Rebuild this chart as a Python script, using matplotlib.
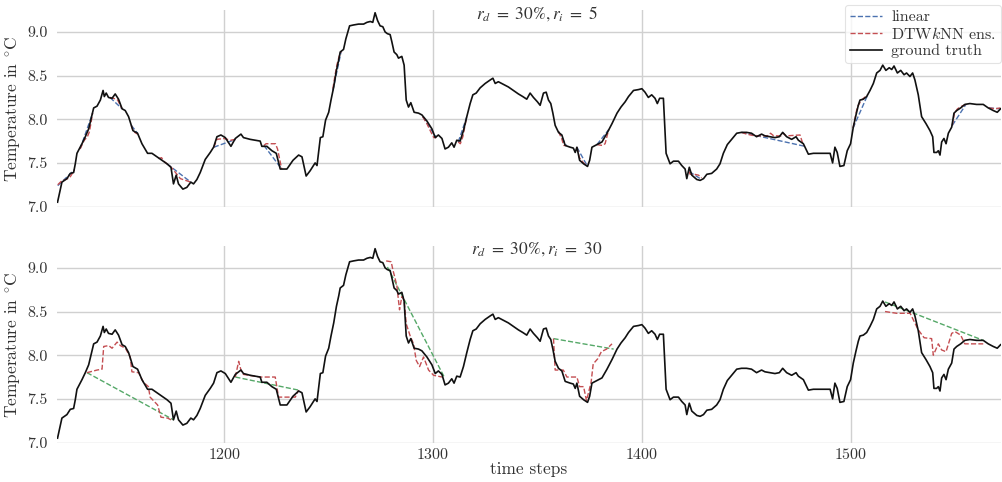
import numpy as np
import matplotlib
matplotlib.use("Agg")
import matplotlib.pyplot as plt

nan = np.nan

# ---------------- data ----------------
gt_steps = [1120.2, 1122.3, 1124.7, 1126.3, 1127.9, 1128.7, 1129.5, 1131.9, 1133.5, 1135.1,
            1136.7, 1137.5, 1139.1, 1140.7, 1142.0, 1142.6, 1143.5, 1144.6, 1146.3, 1147.8,
            1149.4, 1151.1, 1152.6, 1154.2, 1156.3, 1158.5, 1160.6, 1163.3, 1165.4, 1167.8,
            1170.2, 1172.6, 1174.5, 1175.7, 1177.0, 1178.1, 1180.2, 1182.1, 1184.0, 1185.3,
            1186.9, 1188.5, 1190.9, 1193.3, 1194.9, 1196.5, 1198.4, 1200.5, 1203.2, 1205.3,
            1208.0, 1209.2, 1212.4, 1217.2, 1218.0, 1220.4, 1222.8, 1224.9, 1226.8, 1230.0,
            1232.9, 1235.6, 1237.2, 1239.2, 1241.1, 1243.5, 1244.4, 1246.0, 1247.2, 1248.5,
            1250.0, 1251.1, 1252.4, 1253.7, 1254.8, 1255.5, 1257.1, 1258.2, 1260.0, 1261.9,
            1264.3, 1266.7, 1268.3, 1269.9, 1271.1, 1272.2, 1273.4, 1274.6, 1275.9, 1277.0,
            1278.1, 1279.4, 1280.2, 1281.3, 1282.6, 1283.4, 1285.0, 1286.1, 1287.1, 1288.2,
            1289.3, 1290.9, 1293.0, 1294.6, 1297.0, 1299.4, 1301.0, 1302.5, 1304.2, 1305.7,
            1307.3, 1308.9, 1310.0, 1311.3, 1312.9, 1314.5, 1316.1, 1317.7, 1319.0, 1320.6,
            1322.5, 1324.9, 1327.3, 1328.6, 1329.7, 1331.2, 1333.6, 1336.0, 1338.4, 1340.8,
            1342.9, 1344.8, 1346.4, 1348.0, 1349.9, 1351.2, 1352.8, 1354.1, 1355.2, 1356.3,
            1357.3, 1358.4, 1360.0, 1361.6, 1363.2, 1365.6, 1367.1, 1368.0, 1368.8, 1370.1,
            1372.0, 1373.9, 1374.9, 1376.0, 1378.4, 1380.8, 1383.2, 1385.6, 1388.0, 1389.9,
            1391.9, 1393.5, 1395.9, 1398.3, 1399.9, 1401.4, 1403.0, 1404.6, 1406.2, 1407.3,
            1408.4, 1410.2, 1411.5, 1413.4, 1415.0, 1417.4, 1419.0, 1420.6, 1421.4, 1422.6,
            1423.8, 1426.2, 1427.8, 1429.4, 1431.0, 1433.3, 1435.7, 1437.3, 1438.9, 1440.8,
            1442.9, 1445.3, 1447.6, 1450.0, 1452.4, 1454.8, 1457.2, 1458.8, 1461.2, 1463.6,
            1465.7, 1467.3, 1469.2, 1471.6, 1473.7, 1474.8, 1477.2, 1479.6, 1482.0, 1486.0,
            1490.0, 1491.2, 1492.3, 1493.4, 1494.7, 1496.6, 1498.2, 1499.8, 1501.1, 1502.4,
            1503.5, 1504.3, 1505.9, 1507.5, 1509.1, 1510.7, 1512.3, 1513.9, 1515.2, 1516.7,
            1518.3, 1519.5, 1520.6, 1522.2, 1523.8, 1525.4, 1526.6, 1528.2, 1529.5, 1530.6,
            1532.2, 1533.8, 1535.9, 1537.8, 1539.1, 1539.7, 1541.0, 1541.8, 1542.6, 1543.4,
            1544.5, 1545.5, 1546.6, 1548.2, 1549.3, 1550.6, 1552.5, 1554.5, 1556.9, 1560.1,
            1563.3, 1565.7, 1568.1, 1570.0, 1571.6]
gt_temp = [7.05, 7.28, 7.32, 7.38, 7.39, 7.49, 7.61, 7.72, 7.80, 7.89,
           8.05, 8.13, 8.15, 8.22, 8.33, 8.26, 8.30, 8.25, 8.24, 8.29,
           8.23, 8.12, 8.10, 8.03, 7.87, 7.84, 7.72, 7.61, 7.61, 7.57,
           7.53, 7.49, 7.45, 7.26, 7.36, 7.26, 7.20, 7.22, 7.28, 7.26,
           7.31, 7.39, 7.54, 7.62, 7.68, 7.80, 7.82, 7.79, 7.69, 7.78,
           7.83, 7.79, 7.77, 7.75, 7.69, 7.69, 7.64, 7.61, 7.43, 7.43,
           7.53, 7.59, 7.57, 7.35, 7.41, 7.50, 7.47, 7.79, 7.80, 7.99,
           8.08, 8.22, 8.37, 8.56, 8.68, 8.77, 8.80, 8.92, 9.07, 9.08,
           9.09, 9.09, 9.11, 9.12, 9.11, 9.22, 9.13, 9.07, 9.06, 9.00,
           8.98, 8.97, 8.89, 8.77, 8.74, 8.70, 8.72, 8.62, 8.22, 8.14,
           8.19, 8.08, 8.07, 8.05, 7.98, 7.89, 7.79, 7.82, 7.78, 7.66,
           7.68, 7.73, 7.68, 7.76, 7.75, 7.87, 8.03, 8.18, 8.28, 8.30,
           8.36, 8.41, 8.45, 8.47, 8.41, 8.43, 8.40, 8.37, 8.33, 8.29,
           8.26, 8.23, 8.30, 8.25, 8.20, 8.16, 8.30, 8.31, 8.22, 8.18,
           8.07, 7.93, 7.85, 7.82, 7.70, 7.68, 7.67, 7.62, 7.68, 7.53,
           7.49, 7.46, 7.53, 7.68, 7.71, 7.74, 7.84, 7.95, 8.07, 8.14,
           8.20, 8.26, 8.33, 8.34, 8.35, 8.31, 8.25, 8.28, 8.24, 8.18,
           8.24, 8.24, 7.61, 7.49, 7.52, 7.52, 7.47, 7.43, 7.32, 7.45,
           7.36, 7.31, 7.30, 7.32, 7.37, 7.38, 7.43, 7.49, 7.61, 7.71,
           7.77, 7.84, 7.85, 7.85, 7.84, 7.80, 7.83, 7.81, 7.80, 7.79,
           7.80, 7.85, 7.80, 7.77, 7.80, 7.76, 7.72, 7.60, 7.61, 7.61,
           7.61, 7.50, 7.68, 7.62, 7.46, 7.47, 7.64, 7.72, 7.91, 8.05,
           8.16, 8.22, 8.23, 8.26, 8.33, 8.41, 8.53, 8.56, 8.62, 8.56,
           8.59, 8.57, 8.61, 8.53, 8.56, 8.51, 8.53, 8.49, 8.53, 8.45,
           8.28, 8.03, 7.95, 7.87, 7.80, 7.62, 7.62, 7.64, 7.59, 7.74,
           7.78, 7.72, 7.84, 7.91, 8.07, 8.10, 8.13, 8.17, 8.18, 8.17,
           8.17, 8.13, 8.10, 8.08, 8.12]

# r_i = 5 : linear imputation (gap end points, NaN separates gaps)
lin5_steps = [1120.3, 1128.3, nan, 1131.0, 1137.0, nan, 1145.3, 1151.1, nan, 1155.5, 1158.5, nan,
              1172.6, 1184.0, nan, 1195.0, 1205.5, nan, 1219.0, 1227.5, nan, 1252.0, 1256.0, nan,
              1295.0, 1301.5, nan, 1312.0, 1316.0, nan, 1360.0, 1363.7, nan, 1368.8, 1373.9, nan,
              1378.4, 1384.0, nan, 1422.6, 1428.5, nan, 1447.6, 1478.0, nan, 1501.0, 1508.0, nan,
              1548.5, 1555.0, nan, 1566.0, 1571.5]
lin5_temp = [7.24, 7.42, nan, 7.66, 8.07, nan, 8.25, 8.12, nan, 7.93, 7.84, nan,
             7.49, 7.28, nan, 7.68, 7.77, nan, 7.70, 7.43, nan, 8.33, 8.78, nan,
             8.03, 7.79, nan, 7.74, 8.02, nan, 7.86, 7.70, nan, 7.68, 7.46, nan,
             7.71, 7.88, nan, 7.40, 7.31, nan, 7.85, 7.69, nan, 7.90, 8.28, nan,
             7.93, 8.17, nan, 8.13, 8.12]

# r_i = 5 : DTWkNN ensemble imputation
dtw5_steps = [1120.3, 1122, 1124, 1126, 1128.3, nan,
              1131, 1133, 1134.5, 1135.5, 1137, nan,
              1145.3, 1147, 1149, 1151.1, nan,
              1155.5, 1156.5, 1158.5, nan,
              1168.5, 1170, 1171, 1172.6, 1175, 1177, 1179, 1181.5, 1184, nan,
              1195, 1196.5, 1200, 1203, 1205.5, nan,
              1219, 1220, 1224.5, 1225.5, 1227.5, nan,
              1252, 1253, 1254, 1255, 1256, nan,
              1295, 1297, 1299, 1300.3, 1301.5, nan,
              1312, 1313, 1314.2, 1316, nan,
              1360, 1361.5, 1362.5, 1363.7, nan,
              1368.8, 1370, 1372, 1373.9, nan,
              1378.4, 1381, 1382.3, 1384, nan,
              1422.6, 1423, 1425, 1427, 1428.5, nan,
              1447.6, 1450, 1454, 1458, 1460, 1461.5, 1463, 1466.5, 1467.5, 1469, 1475.6, 1477.2, nan,
              1501, 1503, 1505, 1507, 1508, nan,
              1548.5, 1549.5, 1551, 1553, 1555, nan,
              1566, 1569, 1571.5]
dtw5_temp = [7.25, 7.29, 7.31, 7.33, 7.42, nan,
             7.66, 7.76, 7.80, 7.86, 8.07, nan,
             8.25, 8.24, 8.22, 8.12, nan,
             7.93, 7.86, 7.83, nan,
             7.55, 7.56, 7.52, 7.49, 7.44, 7.38, 7.32, 7.30, 7.28, nan,
             7.68, 7.77, 7.78, 7.76, 7.77, nan,
             7.70, 7.72, 7.72, 7.66, 7.43, nan,
             8.35, 8.50, 8.63, 8.72, 8.78, nan,
             8.03, 7.95, 7.85, 7.79, 7.79, nan,
             7.74, 7.72, 7.80, 8.02, nan,
             7.86, 7.78, 7.70, 7.70, nan,
             7.68, 7.56, 7.50, 7.46, nan,
             7.71, 7.70, 7.72, 7.88, nan,
             7.40, 7.37, 7.37, 7.36, 7.33, nan,
             7.85, 7.83, 7.81, 7.81, 7.81, 7.84, 7.81, 7.81, 7.84, 7.81, 7.82, 7.70, nan,
             7.90, 8.14, 8.22, 8.26, 8.28, nan,
             7.93, 8.07, 8.12, 8.15, 8.17, nan,
             8.13, 8.12, 8.13]

# r_i = 30 : straight-line imputation (green)
lin30_steps = [1134.3, 1175.7, nan, 1205.3, 1235.6, nan, 1278.1, 1305.3, nan,
               1357.6, 1386.4, nan, 1516.3, 1563.3]
lin30_temp = [7.80, 7.26, nan, 7.75, 7.60, nan, 9.01, 7.75, nan,
              8.19, 8.07, nan, 8.61, 8.17]

# r_i = 30 : DTWkNN ensemble imputation
dtw30_steps = [1134.3, 1139.1, 1141.5, 1142.3, 1144.7, 1146.3, 1148.7, 1150.3, 1152.7, 1155.0,
               1155.8, 1159.0, 1161.3, 1163.7, 1164.5, 1168.1, 1169.7, 1172.9, 1175.3, nan,
               1205.3, 1206.9, 1208.0, 1209.2, 1217.2, 1224.4, 1226.0, 1230.0, 1234.0, 1235.6, nan,
               1277.5, 1279.9, 1280.7, 1282.6, 1283.9, 1285.0, 1286.1, 1287.1, 1289.0, 1290.6,
               1291.9, 1293.5, 1295.4, 1297.8, 1300.2, 1304.2, nan,
               1357.6, 1358.4, 1362.3, 1364.0, 1368.8, 1370.1, 1372.0, 1373.4, 1375.6, 1376.6,
               1378.8, 1380.5, 1383.0, 1385.6, nan,
               1516.3, 1521.9, 1528.3, 1532.2, 1535.0, 1538.6, 1539.4, 1541.8, 1543.4, 1545.5,
               1548.2, 1549.8, 1552.5, 1554.5, 1563.3]
dtw30_temp = [7.80, 7.83, 7.84, 8.10, 8.11, 8.08, 8.15, 8.11, 8.08, 7.98,
              7.81, 7.80, 7.69, 7.64, 7.52, 7.43, 7.29, 7.28, 7.25, nan,
              7.75, 7.93, 7.83, 7.78, 7.75, 7.75, 7.52, 7.52, 7.52, 7.60, nan,
              9.08, 9.07, 8.98, 8.80, 8.52, 8.67, 8.63, 8.36, 8.22, 8.13,
              7.94, 7.87, 7.98, 7.83, 7.77, 7.75, nan,
              8.19, 7.83, 7.83, 7.75, 7.75, 7.64, 7.64, 7.48, 7.69, 7.90,
              7.96, 8.04, 8.07, 8.13, nan,
              8.50, 8.48, 8.48, 8.29, 8.20, 8.19, 8.00, 8.13, 8.06, 8.04,
              8.25, 8.27, 8.23, 8.13, 8.13]

titles = [r"$r_d\ =\ 30\%, r_i\ =\ 5$", r"$r_d\ =\ 30\%, r_i\ =\ 30$"]
yticks = [7.0, 7.5, 8.0, 8.5, 9.0]
xticks = [1200, 1300, 1400, 1500]

# ---------------- style ----------------
plt.rcParams.update({
    "font.family": "serif",
    "font.serif": ["cmr10"],
    "mathtext.fontset": "cm",
    "axes.formatter.use_mathtext": True,
    "axes.unicode_minus": False,
})

BLUE = "#4c72b0"
RED = "#c44e52"
GREEN = "#55a868"
GRID = "#d0d0d0"
TXT = "#333333"

fig = plt.figure(figsize=(10.02, 4.82), dpi=100)
ax1 = fig.add_axes([0.057, 0.5705, 0.942, 0.4085])
ax2 = fig.add_axes([0.057, 0.081, 0.942, 0.4085])

for ax in (ax1, ax2):
    for s in ax.spines.values():
        s.set_visible(False)
    ax.set_xlim(1120, 1571.8)
    ax.set_ylim(6.995, 9.25)
    ax.set_yticks(yticks)
    ax.set_xticks(xticks)
    ax.grid(True, color=GRID, linewidth=1.0)
    ax.set_axisbelow(True)
    ax.tick_params(length=0, labelsize=11.5, colors=TXT)
    ax.tick_params(axis="y", pad=7)
    ax.tick_params(axis="x", pad=3)
    ax.set_ylabel(r"Temperature in $^{\circ}$C", fontsize=12.5, color=TXT, labelpad=3)
    ax.yaxis.set_major_formatter(matplotlib.ticker.FormatStrFormatter("%.1f"))

ax1.tick_params(labelbottom=False)

# top panel
l1, = ax1.plot(lin5_steps, lin5_temp, "--", color=BLUE, lw=1.0, label="linear")
l2, = ax1.plot(dtw5_steps, dtw5_temp, "--", color=RED, lw=1.0, label=r"DTW$k$NN ens.")
l3, = ax1.plot(gt_steps, gt_temp, "-", color="#111111", lw=1.2, label="ground truth")

# bottom panel
ax2.plot(lin30_steps, lin30_temp, "--", color=GREEN, lw=1.0)
ax2.plot(dtw30_steps, dtw30_temp, "--", color=RED, lw=1.0)
ax2.plot(gt_steps, gt_temp, "-", color="#111111", lw=1.2)

for ax, t in zip((ax1, ax2), titles):
    ax.text(0.508, 1.03, t, transform=ax.transAxes, ha="center", va="top",
            fontsize=12.5, color=TXT, math_fontfamily="stix")

ax2.set_xlabel("time steps", fontsize=12.5, color=TXT, labelpad=0)

leg = ax1.legend(handles=[l1, l2, l3], loc="upper right", bbox_to_anchor=(1.0, 1.025),
                 fontsize=11.5, frameon=True, borderaxespad=0.0, handlelength=2.0,
                 handletextpad=0.6, borderpad=0.3, labelspacing=0.12, fancybox=True)
leg.get_frame().set_edgecolor("#dddddd")
leg.get_frame().set_linewidth(0.8)
for t in leg.get_texts():
    t.set_color(TXT)

fig.savefig("out.png", dpi=100)
